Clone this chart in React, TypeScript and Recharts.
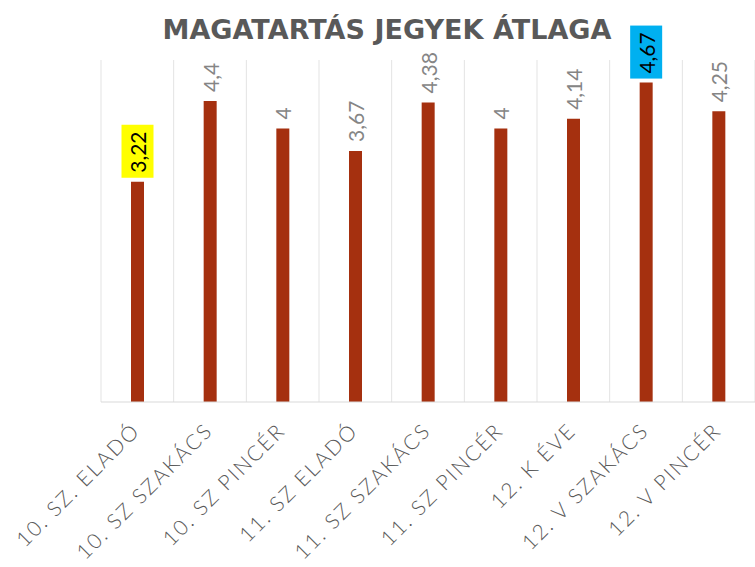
import React from "react";
import { BarChart, Bar, XAxis, YAxis, CartesianGrid, LabelList } from "recharts";

const categories = [
  "10. SZ. ELADÓ",
  "10. SZ SZAKÁCS",
  "10. SZ PINCÉR",
  "11. SZ ELADÓ",
  "11. SZ SZAKÁCS",
  "11. SZ PINCÉR",
  "12. K ÉVE",
  "12. V SZAKÁCS",
  "12. V PINCÉR",
];
const averages = [3.22, 4.4, 4, 3.67, 4.38, 4, 4.14, 4.67, 4.25];
const valueLabels = ["3,22", "4,4", "4", "3,67", "4,38", "4", "4,14", "4,67", "4,25"];
// kiemelt címkék háttere
const highlights = ["#FFFF00", "", "", "", "", "", "", "#00B0F0", ""];

const data = categories.map((name, i) => ({
  name,
  value: averages[i],
  label: valueLabels[i],
}));

const FONT = "Lato, sans-serif";

const ValueLabel = (props: any) => {
  const { x, y, width, value, index } = props;
  const cx = x + width / 2;
  const bg = highlights[index];
  return (
    <g>
      {bg && <rect x={cx - 16} y={y - 57} width={32} height={53} fill={bg} />}
      <text
        x={cx}
        y={y - 9}
        transform={`rotate(-90, ${cx}, ${y - 9})`}
        textAnchor="start"
        dominantBaseline="central"
        fontFamily={FONT}
        fontWeight={400}
        fontSize={21}
        fill={bg ? "#000000" : "#858585"}
      >
        {value}
      </text>
    </g>
  );
};

const CategoryTick = (props: any) => {
  const { x, y, payload } = props;
  return (
    <text
      x={0}
      y={0}
      transform={`translate(${x + 4}, ${y + 22}) rotate(-45)`}
      textAnchor="end"
      fontFamily={FONT}
      fontWeight={300}
      fontSize={21}
      letterSpacing={2}
      fill="#5a5a5a"
    >
      {payload.value}
    </text>
  );
};

export default function App() {
  return (
    <div style={{ position: "absolute", left: 0, top: 0, width: 755, height: 567, background: "#fff" }}>
      <svg width={755} height={567} style={{ position: "absolute", left: 0, top: 0 }}>
        <text
          x={387}
          y={39}
          textAnchor="middle"
          fontFamily="'DejaVu Sans', sans-serif"
          fontWeight="bold"
          fontSize={27}
          textLength={449}
          lengthAdjust="spacingAndGlyphs"
          fill="#595959"
        >
          MAGATARTÁS JEGYEK ÁTLAGA
        </text>
      </svg>
      <div style={{ position: "absolute", left: 0, top: 0 }}>
        <BarChart width={755} height={567} data={data} margin={{ top: 60, right: 0, left: 101, bottom: 0 }}>
          <CartesianGrid
            horizontal={false}
            stroke="#e3e3e3"
            verticalCoordinatesGenerator={({ offset }: any) =>
              categories.map((_, i) => offset.left + (i * offset.width) / categories.length).concat(offset.left + offset.width)
            }
          />
          <XAxis
            dataKey="name"
            interval={0}
            height={165}
            tickLine={false}
            axisLine={{ stroke: "#d9d9d9" }}
            tick={<CategoryTick />}
          />
          <YAxis hide domain={[0, 5]} />
          <Bar dataKey="value" fill="#A5300F" barSize={13} isAnimationActive={false}>
            <LabelList dataKey="label" content={<ValueLabel />} />
          </Bar>
        </BarChart>
      </div>
    </div>
  );
}
